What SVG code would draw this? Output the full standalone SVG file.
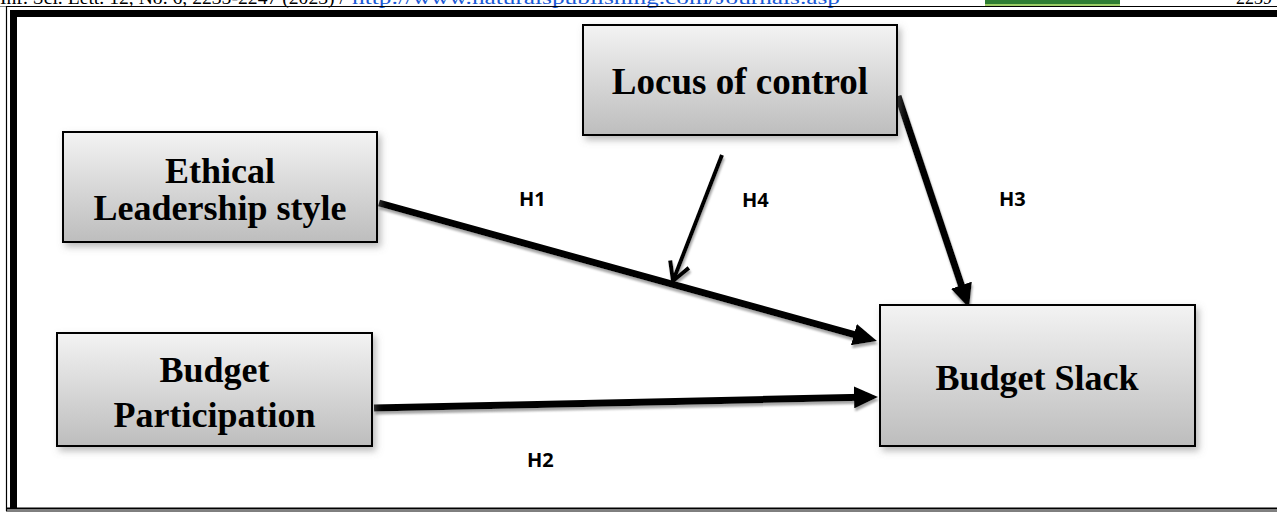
<svg xmlns="http://www.w3.org/2000/svg" width="1277" height="512" viewBox="0 0 1277 512">
<style>
.box{fill:url(#g);stroke:#000;stroke-width:2;filter:url(#bs)}
.nt{font-family:"Liberation Serif","Times New Roman",serif;font-weight:bold;font-size:36px;fill:#000;text-anchor:middle}
.lb{font-family:"Open Sans","Liberation Sans",sans-serif;font-weight:bold;font-size:20px;fill:#000}
.thick{stroke:#000;stroke-width:7;fill:none;marker-end:url(#ah)}
.thin{stroke:#000;stroke-width:4;fill:none;marker-end:url(#oh)}
.hd{font-family:"Liberation Serif","Times New Roman",serif;font-size:18px}
</style>
<defs>
<linearGradient id="g" x1="0" y1="0" x2="0" y2="1">
<stop offset="0" stop-color="#f3f3f3"/>
<stop offset="1" stop-color="#bdbdbd"/>
</linearGradient>
<filter id="bs" x="-10%" y="-10%" width="125%" height="130%">
<feDropShadow dx="3" dy="4" stdDeviation="3.5" flood-color="#777" flood-opacity="0.5"/>
</filter>
<filter id="ls" x="-10%" y="-20%" width="120%" height="140%">
<feDropShadow dx="1" dy="3" stdDeviation="1" flood-color="#888" flood-opacity="0.75"/>
</filter>
<marker id="ah" markerUnits="userSpaceOnUse" viewBox="0 0 24 22" refX="8" refY="11" markerWidth="24" markerHeight="22" orient="auto">
<path d="M0,0 L24,11 L0,22 z" fill="#000"/>
</marker>
<marker id="oh" markerUnits="userSpaceOnUse" viewBox="0 0 24 24" refX="21" refY="12" markerWidth="24" markerHeight="24" orient="auto" overflow="visible">
<path d="M3,2 L21,12 L3,22" fill="none" stroke="#000" stroke-width="4" stroke-linejoin="miter"/>
</marker>
</defs>
<rect width="1277" height="512" fill="#fff"/>
<g id="header">
<text class="hd" x="0" y="4" fill="#000" textLength="345" lengthAdjust="spacingAndGlyphs">Inf. Sci. Lett. 12, No. 6, 2235-2247 (2023) /</text>
<text class="hd" x="352" y="4" fill="#1a5ad6" textLength="488" lengthAdjust="spacingAndGlyphs">http://www.naturalspublishing.com/Journals.asp</text>
<rect x="985" y="0" width="135" height="4" fill="#2e7d32"/>
<rect x="985" y="4" width="135" height="2" fill="#9ccc65"/>
<text class="hd" x="1236" y="4" fill="#000">2239</text>
</g>
<g id="frame" fill="none" stroke="#000">
<line x1="0" y1="6.5" x2="6" y2="6.5" stroke="#888" stroke-width="1"/>
<path d="M6.5,511 V6.5 H1277" stroke-width="1.2"/>
<path d="M13.5,508 V13.5 H1277" stroke-width="7"/>
<line x1="6" y1="508.5" x2="1277" y2="508.5" stroke-width="2"/>
<line x1="6" y1="511" x2="1277" y2="511" stroke-width="1"/>
</g>
<g id="connectors" filter="url(#ls)">
<line class="thick" x1="379" y1="203" x2="861.6" y2="336.7"/>
<line class="thick" x1="374" y1="408" x2="862" y2="397.3"/>
<line class="thick" x1="898" y1="96" x2="963.9" y2="292.8"/>
<line class="thin" x1="722" y1="155" x2="673" y2="281"/>
</g>
<g id="labels">
<text class="lb" x="519" y="206">H1</text>
<text class="lb" x="742" y="207">H4</text>
<text class="lb" x="999" y="206">H3</text>
<text class="lb" x="527" y="467">H2</text>
</g>
<g id="locus">
<rect class="box" x="583" y="25" width="314" height="110"/>
<text class="nt" x="740" y="94" style="font-size:37px">Locus of control</text>
</g>
<g id="ethical">
<rect class="box" x="63" y="132" width="314" height="110"/>
<text class="nt" x="220" y="183">Ethical</text>
<text class="nt" x="220" y="220">Leadership style</text>
</g>
<g id="participation">
<rect class="box" x="57" y="333" width="315" height="113"/>
<text class="nt" x="214.5" y="382">Budget</text>
<text class="nt" x="214.5" y="427">Participation</text>
</g>
<g id="slack">
<rect class="box" x="880" y="305" width="315" height="141"/>
<text class="nt" x="1037" y="390">Budget Slack</text>
</g>
</svg>
